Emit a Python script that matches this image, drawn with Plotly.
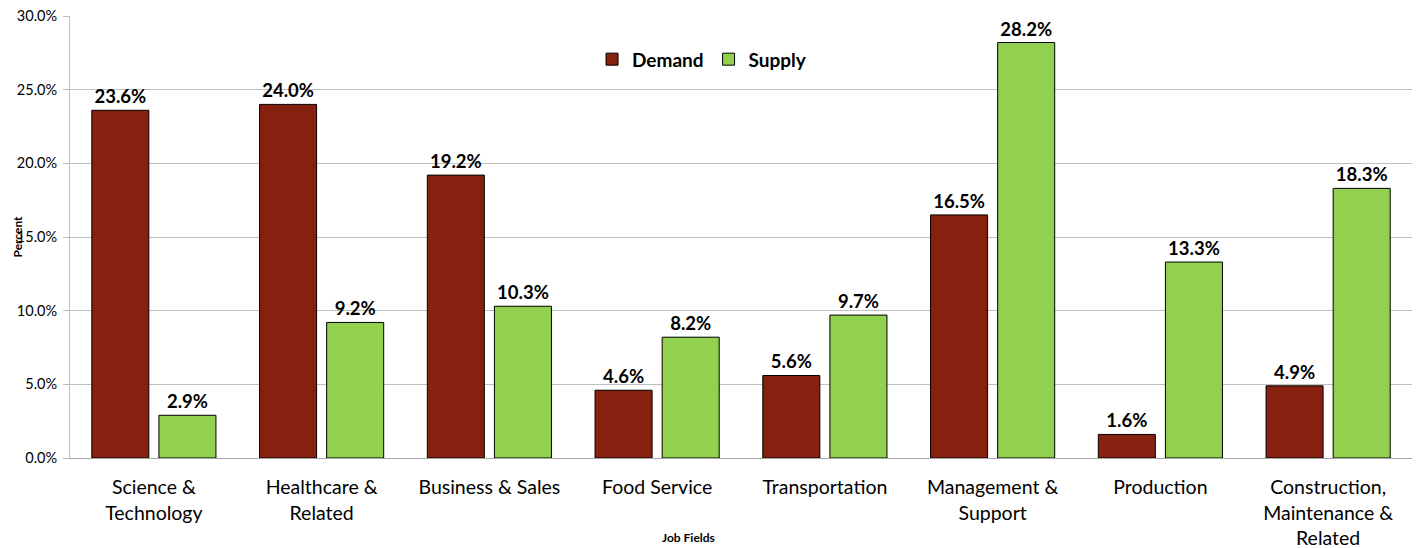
import plotly.graph_objects as go

categories = ["Science &<br>Technology", "Healthcare &<br>Related", "Business & Sales",
              "Food Service", "Transportation", "Management &<br>Support", "Production",
              "Construction,<br>Maintenance &<br>Related"]
demand = [23.6, 24.0, 19.2, 4.6, 5.6, 16.5, 1.6, 4.9]
supply = [2.9, 9.2, 10.3, 8.2, 9.7, 28.2, 13.3, 18.3]
y_ticks = [0, 5, 10, 15, 20, 25, 30]
y_tick_labels = ["0.0%", "5.0%", "10.0%", "15.0%", "20.0%", "25.0%", "30.0%"]

FONT = "Lato, Noto Sans, sans-serif"

fig = go.Figure()
fig.add_bar(name="<b>Demand</b>", x=categories, y=demand,
            marker=dict(color="#86200F", line=dict(color="#000000", width=1)),
            text=[f"<b>{v:.1f}%</b>" for v in demand], textposition="outside",
            textfont=dict(size=18.5, color="black", family=FONT), cliponaxis=False)
fig.add_bar(name="<b>Supply</b>", x=categories, y=supply,
            marker=dict(color="#92D050", line=dict(color="#000000", width=1)),
            text=[f"<b>{v:.1f}%</b>" for v in supply], textposition="outside",
            textfont=dict(size=18.5, color="black", family=FONT), cliponaxis=False)

fig.update_layout(
    width=1426, height=548,
    margin=dict(l=70, r=14, t=16, b=90),
    paper_bgcolor="white", plot_bgcolor="white",
    font=dict(family=FONT, color="black"),
    barmode="group", bargap=0.2, bargroupgap=0.15,
    showlegend=True,
    legend=dict(orientation="h", x=0.389, y=0.902, xanchor="left", yanchor="middle",
                font=dict(size=19, family=FONT), itemwidth=30, traceorder="normal",
                bgcolor="rgba(0,0,0,0)"),
    annotations=[
        dict(text="<b>Percent</b>", textangle=-90, x=0, xref="paper", y=0.5, yref="paper",
             xshift=-63, showarrow=False, font=dict(size=12, family=FONT)),
        dict(text="<b>Job Fields</b>", x=0.461, xref="paper", y=0, yref="paper",
             yshift=-89, showarrow=False, font=dict(size=12, family=FONT)),
    ],
)
fig.update_yaxes(range=[0, 30], tickvals=y_ticks, ticktext=y_tick_labels,
                 showgrid=True, gridcolor="#BFBFBF", gridwidth=1,
                 showline=True, linecolor="#BFBFBF", linewidth=1,
                 ticks="outside", ticklen=6, tickcolor="#BFBFBF", ticklabelstandoff=3,
                 ticklabeloverflow="allow",
                 tickfont=dict(size=14.5, family=FONT), zeroline=False, automargin=False)
fig.update_xaxes(showline=True, linecolor="#A6A6A6", linewidth=1, ticks="",
                 tickfont=dict(size=19.5, family=FONT), ticklabelstandoff=12,
                 ticklabeloverflow="allow", automargin=False)

fig.write_html("out.html", config={"displayModeBar": False},
               post_script="document.body.style.margin='0';")
